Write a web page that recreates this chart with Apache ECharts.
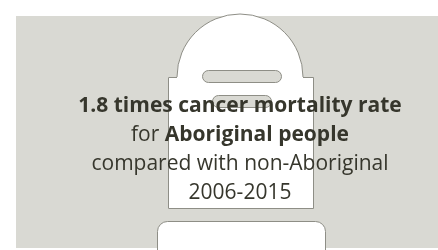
<!DOCTYPE html>
<html>
<head>
<meta charset="utf-8">
<script src="https://cdn.jsdelivr.net/npm/echarts@6/dist/echarts.min.js"></script>
<style>
  html, body { margin: 0; padding: 0; background: #fff; }
  #main { width: 438px; height: 250px; }
</style>
</head>
<body>
<div id="main"></div>
<script>
// figures shown in the card
const ratio = 1.8
const years = ['2006', '2015']
const group = 'Aboriginal people'
const compare = 'non-Aboriginal'

const bg = '#d9d9d3'
const ink = '#36362c'
const edge = '#8e8e86'

const chart = echarts.init(document.getElementById('main'))

const option = {
  animation: false,
  graphic: [
    // grey panel
    { type: 'rect', shape: { x: 16, y: 16, width: 422, height: 232 }, style: { fill: bg }, z: 1 },
    // headstone: dome + body
    { type: 'sector', shape: { cx: 240, cy: 77, r: 63, r0: 0, startAngle: Math.PI, endAngle: Math.PI * 2 }, style: { fill: '#fff' }, z: 2 },
    { type: 'arc', shape: { cx: 240, cy: 77, r: 63, startAngle: Math.PI, endAngle: Math.PI * 2 }, style: { stroke: edge, lineWidth: 1, fill: null }, z: 3 },
    { type: 'rect', shape: { x: 168, y: 77, width: 145, height: 132 }, style: { fill: '#fff' }, z: 2 },
    {
      type: 'polyline',
      shape: { points: [[177, 77.5], [168.5, 77.5], [168.5, 208.5], [313.5, 208.5], [313.5, 77.5], [303, 77.5]] },
      style: { stroke: edge, lineWidth: 1, fill: null },
      z: 3
    },
    { type: 'rect', shape: { x: 202.5, y: 70.5, width: 79, height: 12, r: 6 }, style: { fill: bg, stroke: edge, lineWidth: 1 }, z: 4 },
    { type: 'rect', shape: { x: 212.5, y: 95.5, width: 59, height: 12, r: 6 }, style: { fill: bg, stroke: edge, lineWidth: 1 }, z: 4 },
    // plinth
    { type: 'rect', shape: { x: 157.5, y: 221.5, width: 168, height: 40, r: 10 }, style: { fill: '#fff', stroke: edge, lineWidth: 1 }, z: 2 },
    {
      type: 'text',
      x: 240, y: 92,
      z: 10,
      style: {
        text: [
          '{b|' + ratio + ' times cancer mortality rate}',
          '{n|for }{b|' + group + '}',
          '{n|compared with ' + compare + '}',
          '{n|' + years.join('-') + '}'
        ].join('\n'),
        align: 'center',
        verticalAlign: 'top',
        fontFamily: 'Open Sans',
        fill: ink,
        rich: {
          b: { fontFamily: 'Open Sans', fontWeight: 'bold', fontSize: 21, lineHeight: 29, fill: ink },
          n: { fontFamily: 'Open Sans', fontSize: 21, lineHeight: 29, fill: ink }
        }
      }
    }
  ]
}
chart.setOption(option)
</script>
</body>
</html>
